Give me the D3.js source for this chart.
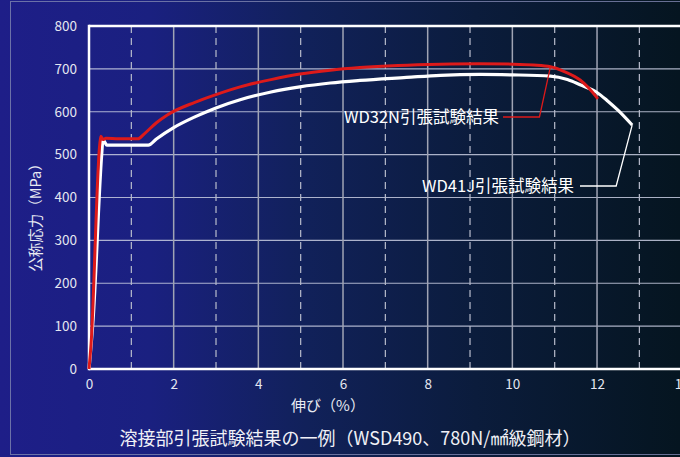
<!DOCTYPE html>
<html>
<head>
<meta charset="utf-8">
<script src="https://cdn.jsdelivr.net/npm/d3@7"></script>
<style>
  html, body { margin: 0; padding: 0; background: #061420; }
  svg { display: block; }
  text { font-family: "Noto Sans CJK JP", "Noto Sans", sans-serif; }
</style>
</head>
<body>
<svg id="chart" width="680" height="457"></svg>
<script>
// Stress-strain curves: [elongation %, nominal stress MPa]
const wd32nCurve = [
  [0, 0], [0.05, 60], [0.25, 520], [0.28, 543], [0.33, 535], [0.4, 538],
  [0.7, 537], [1.16, 537], [1.3, 548], [1.6, 575], [1.84, 592], [2.5, 622],
  [3.0, 640], [3.57, 658], [4.3, 675], [4.98, 688], [5.7, 697], [6.4, 703],
  [7.3, 708], [8.3, 711], [9.2, 712], [10.0, 711], [10.5, 709], [10.9, 705],
  [11.2, 695], [11.6, 674], [11.8, 656], [12.02, 630]
];
const wd41jCurve = [
  [0, 0], [0.1, 120], [0.3, 500], [0.33, 535], [0.38, 528], [0.42, 522],
  [0.9, 522], [1.4, 522], [1.6, 537], [2.0, 563], [2.5, 588], [3.0, 609],
  [3.57, 628], [4.3, 646], [4.98, 658], [5.7, 667], [6.4, 673], [7.5, 680],
  [8.3, 685], [9.24, 687], [10.0, 686], [10.9, 683], [11.3, 675], [11.6, 663],
  [12.0, 645], [12.23, 627], [12.5, 603], [12.83, 569]
];
const xTicks = [0, 2, 4, 6, 8, 10, 12, 14];
const xDashed = [1, 3, 5, 7, 9, 11, 13];
const yTicks = [0, 100, 200, 300, 400, 500, 600, 700, 800];
const labels = {
  wd32n: "WD32N引張試験結果",
  wd41j: "WD41J引張試験結果",
  xAxis: "伸び（%）",
  yAxis: "公称応力（MPa）",
  title: "溶接部引張試験結果の一例（WSD490、780N/㎟級鋼材）"
};
// Annotation anchors on each curve [elongation, stress]
const wd32nAnchor = [10.9, 705];
const wd41jAnchor = [12.83, 569];

const svg = d3.select("#chart");
const W = 680, H = 457;

// Background gradient
const defs = svg.append("defs");
const grad = defs.append("linearGradient").attr("id", "bg").attr("x1", 0).attr("x2", 1).attr("y1", 0).attr("y2", 0);
[["0%", "#1e1e88"], ["22%", "#1a2080"], ["45%", "#11215a"], ["70%", "#0b1c3c"], ["100%", "#051520"]]
  .forEach(([o, c]) => grad.append("stop").attr("offset", o).attr("stop-color", c));
svg.append("rect").attr("width", W).attr("height", H).attr("fill", "url(#bg)");

// Outer frame
svg.append("rect").attr("x", 10.5).attr("y", 1.5).attr("width", W).attr("height", 453)
  .attr("fill", "none").attr("stroke", "#7f86b0").attr("stroke-width", 1).attr("stroke-opacity", 0.8);

const x = d3.scaleLinear().domain([0, 14]).range([89, 681.7]);
const y = d3.scaleLinear().domain([0, 800]).range([369, 26]);

// Grid
const grid = svg.append("g");
grid.selectAll(".hg").data(yTicks.filter(v => v > 0 && v < 800)).join("line")
  .attr("x1", x(0)).attr("x2", W).attr("y1", d => y(d)).attr("y2", d => y(d))
  .attr("stroke", "#c8cce0").attr("stroke-width", 1.2).attr("stroke-opacity", 0.85);
grid.selectAll(".vg").data(xTicks.filter(v => v > 0)).join("line")
  .attr("x1", d => x(d)).attr("x2", d => x(d)).attr("y1", y(800)).attr("y2", y(0))
  .attr("stroke", "#a0a4b4").attr("stroke-width", 1.5);
grid.selectAll(".dg").data(xDashed).join("line")
  .attr("x1", d => x(d)).attr("x2", d => x(d)).attr("y1", y(800)).attr("y2", y(0))
  .attr("stroke", "#b8bccc").attr("stroke-width", 1.2).attr("stroke-dasharray", "7,5");

// Plot border (left, top, bottom)
svg.append("line").attr("x1", x(0)).attr("x2", W).attr("y1", y(800)).attr("y2", y(800))
  .attr("stroke", "#ffffff").attr("stroke-width", 2.5);
svg.append("line").attr("x1", x(0)).attr("x2", W).attr("y1", y(0)).attr("y2", y(0))
  .attr("stroke", "#ffffff").attr("stroke-width", 2.5);
svg.append("line").attr("x1", x(0)).attr("x2", x(0)).attr("y1", y(800) - 1.2).attr("y2", y(0) + 1.2)
  .attr("stroke", "#ffffff").attr("stroke-width", 2.5);

// Axes tick labels
const xAxis = d3.axisBottom(x).tickValues(xTicks).tickSize(0).tickPadding(10);
const gx = svg.append("g").attr("transform", `translate(0,${y(0)})`).call(xAxis);
gx.select(".domain").remove();
gx.selectAll("text").attr("fill", "#e4e6f0").attr("font-size", 13.5);

const yAxis = d3.axisLeft(y).tickValues(yTicks).tickSize(0).tickPadding(12);
const gy = svg.append("g").attr("transform", `translate(${x(0)},0)`).call(yAxis);
gy.select(".domain").remove();
gy.selectAll("text").attr("fill", "#e4e6f0").attr("font-size", 13.5);

// Curves
const line = d3.line().x(d => x(d[0])).y(d => y(d[1])).curve(d3.curveMonotoneX);
svg.append("path").datum(wd41jCurve).attr("d", line)
  .attr("fill", "none").attr("stroke", "#ffffff").attr("stroke-width", 3.2).attr("stroke-linejoin", "round");
svg.append("path").datum(wd32nCurve).attr("d", line)
  .attr("fill", "none").attr("stroke", "#dd1a1a").attr("stroke-width", 3).attr("stroke-linejoin", "round");

// Annotations
const a1 = [x(wd32nAnchor[0]), y(wd32nAnchor[1])];
svg.append("polyline")
  .attr("points", `${a1[0]},${a1[1]} ${a1[0] - 11},117 503,117`)
  .attr("fill", "none").attr("stroke", "#dd1a1a").attr("stroke-width", 1.3);
svg.append("text").attr("x", 499).attr("y", 123).attr("text-anchor", "end")
  .attr("fill", "#ffffff").attr("font-size", 16.5).text(labels.wd32n);

const a2 = [x(wd41jAnchor[0]), y(wd41jAnchor[1])];
svg.append("polyline")
  .attr("points", `${a2[0]},${a2[1]} ${a2[0] - 16},186 580,186`)
  .attr("fill", "none").attr("stroke", "#ffffff").attr("stroke-width", 1.3);
svg.append("text").attr("x", 574).attr("y", 192).attr("text-anchor", "end")
  .attr("fill", "#ffffff").attr("font-size", 16.5).text(labels.wd41j);

// Axis titles
svg.append("text").attr("x", 328).attr("y", 411).attr("text-anchor", "middle")
  .attr("fill", "#e8eaf2").attr("font-size", 15).text(labels.xAxis);
svg.append("text").attr("transform", "translate(41,214) rotate(-90)").attr("text-anchor", "middle")
  .attr("fill", "#e8eaf2").attr("font-size", 14.5).text(labels.yAxis);

// Chart title
svg.append("text").attr("x", 350).attr("y", 445).attr("text-anchor", "middle")
  .attr("fill", "#f0f0f6").attr("font-size", 18).text(labels.title);
</script>
</body>
</html>
